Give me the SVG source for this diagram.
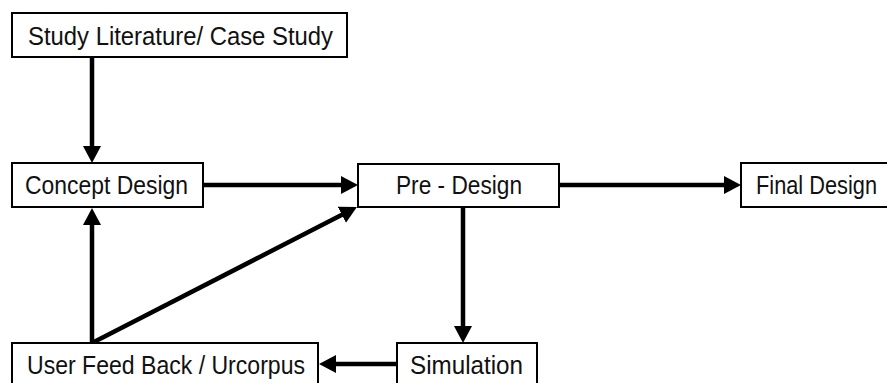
<svg xmlns="http://www.w3.org/2000/svg" width="887" height="383" viewBox="0 0 887 383">
<defs>
<style>
.box{fill:#fff;stroke:#000;stroke-width:2}
.lbl{font-family:"Liberation Sans",Arial,sans-serif;font-size:26px;fill:#111}
.arr{stroke:#000;stroke-width:4.5;fill:none;marker-end:url(#ah)}
</style>
<marker id="ah" markerUnits="userSpaceOnUse" markerWidth="17" markerHeight="18" refX="4" refY="9" orient="auto">
<path d="M0,0 L17,9 L0,18 z" fill="#000"/>
</marker>
</defs>
<rect width="887" height="383" fill="#fff"/>
<g id="connectors">
<line class="arr" x1="92" y1="57" x2="92" y2="150"/>
<line class="arr" x1="203" y1="185" x2="345" y2="185"/>
<line class="arr" x1="559" y1="185" x2="728" y2="185"/>
<line class="arr" x1="463" y1="207" x2="463" y2="330"/>
<line class="arr" x1="397" y1="364" x2="332" y2="364"/>
<line class="arr" x1="92" y1="343" x2="92" y2="221"/>
<line class="arr" x1="92" y1="343" x2="345.4" y2="213"/>
</g>
<g id="study">
<rect class="box" x="12" y="13" width="335" height="44"/>
<text class="lbl" x="28" y="45" textLength="305" lengthAdjust="spacingAndGlyphs">Study Literature/ Case Study</text>
</g>
<g id="concept">
<rect class="box" x="12" y="163" width="191" height="44"/>
<text class="lbl" x="25" y="194" textLength="163" lengthAdjust="spacingAndGlyphs">Concept Design</text>
</g>
<g id="predesign">
<rect class="box" x="358" y="164" width="201" height="43"/>
<text class="lbl" x="396" y="194" textLength="126" lengthAdjust="spacingAndGlyphs">Pre - Design</text>
</g>
<g id="final">
<rect class="box" x="741" y="163" width="160" height="44"/>
<text class="lbl" x="756" y="194" textLength="121" lengthAdjust="spacingAndGlyphs">Final Design</text>
</g>
<g id="simulation">
<rect class="box" x="397" y="343" width="140" height="50"/>
<text class="lbl" x="410" y="374" textLength="113" lengthAdjust="spacingAndGlyphs">Simulation</text>
</g>
<g id="userfeedback">
<rect class="box" x="12" y="343" width="306" height="50"/>
<text class="lbl" x="27" y="374" textLength="278" lengthAdjust="spacingAndGlyphs">User Feed Back / Urcorpus</text>
</g>
</svg>
